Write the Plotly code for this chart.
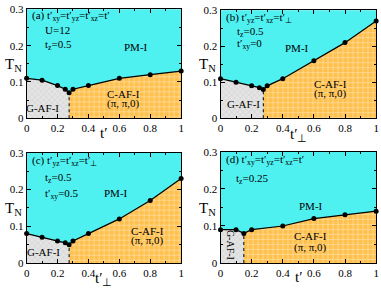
import plotly.graph_objects as go

# ---------------- data ----------------
a_x = [0, 0.1, 0.2, 0.25, 0.275, 0.3, 0.4, 0.6, 0.8, 1.0]
a_T = [0.11, 0.105, 0.09, 0.08, 0.07, 0.08, 0.09, 0.11, 0.12, 0.13]
a_b = 0.275

b_x = [0, 0.1, 0.2, 0.25, 0.275, 0.3, 0.4, 0.6, 0.8, 1.0]
b_T = [0.11, 0.10, 0.09, 0.085, 0.08, 0.09, 0.11, 0.16, 0.21, 0.27]
b_b = 0.275

c_x = [0, 0.1, 0.2, 0.25, 0.275, 0.3, 0.4, 0.6, 0.8, 1.0]
c_T = [0.08, 0.07, 0.06, 0.055, 0.05, 0.06, 0.08, 0.12, 0.17, 0.23]
c_b = 0.275

d_x = [0, 0.1, 0.15, 0.2, 0.4, 0.6, 0.8, 1.0]
d_T = [0.09, 0.09, 0.08, 0.09, 0.10, 0.12, 0.13, 0.14]
d_b = 0.15

x_ticks = [0, 0.2, 0.4, 0.6, 0.8, 1]
x_ticklabels = ["0", "0.2", "0.4", "0.6", "0.8", "1"]
y_ticks = [0, 0.1, 0.2, 0.3]
y_ticklabels = ["0", "0.1", "0.2", "0.3"]

CYAN = "#4ff0f0"
ORANGE = "#ffc04d"
GREY = "#e4e4e4"
FONT = "Liberation Serif"

panels = [
    dict(x=a_x, T=a_T, b=a_b, dom=([0.063, 0.475], [0.599, 0.988]), xt="t′", off=0.051),
    dict(x=b_x, T=b_T, b=b_b, dom=([0.580, 0.995], [0.599, 0.985]), xt="t′<sub>⊥</sub>", off=0.058),
    dict(x=c_x, T=c_T, b=c_b, dom=([0.063, 0.475], [0.082, 0.476]), xt="t′<sub>⊥</sub>", off=0.058),
    dict(x=d_x, T=d_T, b=d_b, dom=([0.580, 0.995], [0.082, 0.479]), xt="t′", off=0.051),
]


def interp(xs, ys, xv):
    for i in range(len(xs) - 1):
        if xs[i] <= xv <= xs[i + 1]:
            f = (xv - xs[i]) / (xs[i + 1] - xs[i])
            return ys[i] + f * (ys[i + 1] - ys[i])
    return ys[-1]


fig = go.Figure()
layout = dict(width=381, height=292, margin=dict(l=0, r=0, t=0, b=0),
              paper_bgcolor="white", showlegend=False,
              font=dict(family=FONT, color="black", size=11))
annotations = []

for i, p in enumerate(panels):
    n = "" if i == 0 else str(i + 1)
    xa, ya = "x" + n, "y" + n
    xs, Ts, xb = p["x"], p["T"], p["b"]
    Tb = interp(xs, Ts, xb)
    # G-AF region
    gx = [0] + [x for x in xs if x < xb] + [xb, xb, 0]
    gy = [0] + [t for x, t in zip(xs, Ts) if x < xb] + [Tb, 0, 0]
    fig.add_trace(go.Scatter(x=gx, y=gy, fill="toself", mode="none", fillcolor=GREY,
                             fillpattern=dict(shape="x", bgcolor=GREY, fgcolor="#b8b8b8",
                                              size=4, solidity=0.25),
                             xaxis=xa, yaxis=ya, hoverinfo="skip"))
    # C-AF region
    cx = [xb, xb] + [x for x in xs if x > xb] + [1, xb]
    cy = [0, Tb] + [t for x, t in zip(xs, Ts) if x > xb] + [0, 0]
    fig.add_trace(go.Scatter(x=cx, y=cy, fill="toself", mode="none", fillcolor=ORANGE,
                             fillpattern=dict(shape="+", bgcolor=ORANGE, fgcolor="white",
                                              size=5, solidity=0.25),
                             xaxis=xa, yaxis=ya, hoverinfo="skip"))
    # boundary dotted
    fig.add_trace(go.Scatter(x=[xb, xb], y=[0, Tb], mode="lines",
                             line=dict(color="black", width=1, dash="dot"),
                             xaxis=xa, yaxis=ya))
    # T_N line
    fig.add_trace(go.Scatter(x=xs, y=Ts, mode="lines+markers",
                             line=dict(color="black", width=1.2),
                             marker=dict(color="black", size=5),
                             cliponaxis=False, xaxis=xa, yaxis=ya))
    ax = dict(domain=p["dom"][0], range=[0, 1], tickvals=x_ticks, ticktext=x_ticklabels,
              ticks="inside", ticklen=4, tickwidth=1, tickcolor="black",
              showline=True, linecolor="black", linewidth=1, mirror="ticks",
              showgrid=False, zeroline=False, tickfont=dict(size=11, family=FONT),
              minor=dict(tickvals=[0.1, 0.3, 0.5, 0.7, 0.9], ticks="inside", ticklen=2,
                         tickcolor="black"),
              anchor=ya)
    ay = dict(domain=p["dom"][1], range=[0, 0.3], tickvals=y_ticks, ticktext=y_ticklabels,
              ticks="inside", ticklen=4, tickwidth=1, tickcolor="black",
              showline=True, linecolor="black", linewidth=1, mirror="ticks",
              showgrid=False, zeroline=False, tickfont=dict(size=11, family=FONT),
              minor=dict(tickvals=[0.05, 0.15, 0.25], ticks="inside", ticklen=2,
                         tickcolor="black"),
              anchor=xa)
    layout["xaxis" + n] = ax
    layout["yaxis" + n] = ay
    layout.setdefault("shapes", [])
    layout["shapes"].append(dict(type="rect", xref=xa + " domain", yref=ya + " domain",
                                 x0=0, x1=1, y0=0, y1=1, fillcolor=CYAN,
                                 line=dict(width=0), layer="below"))
    x0, x1 = p["dom"][0]
    y0, y1 = p["dom"][1]
    annotations.append(dict(text="T<sub>N</sub>", xref="paper", yref="paper",
                            x=x0 - 0.035, y=y0 + (y1 - y0) * 0.49, showarrow=False,
                            font=dict(size=15, family=FONT), xanchor="center", yanchor="middle"))
    annotations.append(dict(text=p["xt"], xref="paper", yref="paper",
                            x=x0 + (x1 - x0) * 0.5, y=y0 - p["off"], showarrow=False,
                            font=dict(size=15, family=FONT), xanchor="center", yanchor="middle"))


def txt(s, x, y, n, size=11, anchor="center", angle=0):
    xa = "x" + ("" if n == 1 else str(n))
    ya = "y" + ("" if n == 1 else str(n))
    annotations.append(dict(text=s, x=x, y=y, xref=xa, yref=ya, showarrow=False,
                            xanchor=anchor, yanchor="middle", textangle=angle,
                            font=dict(size=size, family=FONT)))


# panel a
txt("(a) t′<sub>xy</sub>=t′<sub>yz</sub>=t′<sub>xz</sub>=t′", 0.02, 0.283, 1, anchor="left")
txt("U=12", 0.105, 0.243, 1, anchor="left")
txt("t<sub>z</sub>=0.5", 0.105, 0.203, 1, anchor="left")
txt("PM-I", 0.71, 0.195, 1)
txt("C-AF-I", 0.63, 0.066, 1)
txt("(π, π,0)", 0.63, 0.041, 1)
txt("G-AF-I", 0.105, 0.029, 1)
# panel b
txt("(b) t′<sub>yz</sub>=t′<sub>xz</sub>=t′<sub>⊥</sub>", 0.02, 0.277, 2, anchor="left")
txt("t<sub>z</sub>=0.5", 0.09, 0.240, 2, anchor="left")
txt("t′<sub>xy</sub>=0", 0.09, 0.205, 2, anchor="left")
txt("PM-I", 0.49, 0.196, 2)
txt("C-AF-I", 0.71, 0.094, 2)
txt("(π, π,0)", 0.71, 0.07, 2)
txt("G-AF-I", 0.15, 0.04, 2)
# panel c
txt("(c) t′<sub>yz</sub>=t′<sub>xz</sub>=t′<sub>⊥</sub>", 0.02, 0.278, 3, anchor="left")
txt("t<sub>z</sub>=0.5", 0.105, 0.23, 3, anchor="left")
txt("t′<sub>xy</sub>=0.5", 0.105, 0.188, 3, anchor="left")
txt("PM-I", 0.58, 0.19, 3)
txt("C-AF-I", 0.78, 0.088, 3)
txt("(π, π,0)", 0.78, 0.061, 3)
txt("G-AF-I", 0.11, 0.03, 3)
# panel d
txt("(d) t′<sub>xy</sub>=t′<sub>yz</sub>=t′<sub>xz</sub>=t′", 0.02, 0.277, 4, anchor="left")
txt("t<sub>z</sub>=0.25", 0.085, 0.228, 4, anchor="left")
txt("PM-I", 0.58, 0.155, 4)
txt("C-AF-I", 0.58, 0.072, 4)
txt("(π, π,0)", 0.58, 0.041, 4)
txt("G-AF-I", 0.065, 0.05, 4, size=10, angle=90)

layout["annotations"] = annotations
fig.update_layout(**layout)
fig.write_html("out.html", config={"displayModeBar": False},
               post_script="document.body.style.margin='0';document.body.style.overflow='hidden';")
